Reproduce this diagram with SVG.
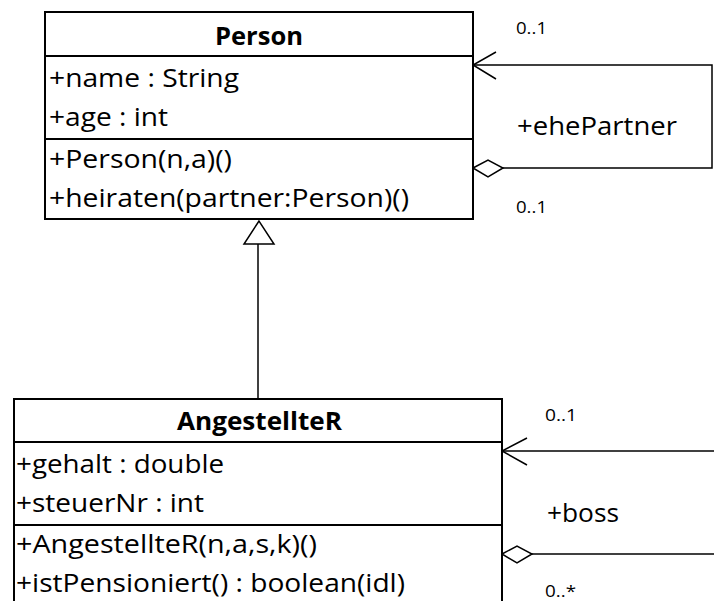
<svg xmlns="http://www.w3.org/2000/svg" width="714" height="601" viewBox="0 0 714 601">
<style>
.box{fill:#fff;stroke:#000;stroke-width:2}
.div{stroke:#000;stroke-width:2}
.t{font-family:"Open Sans","Liberation Sans",sans-serif;font-size:25.5px;fill:#000}
.b{font-weight:bold}
.m{font-family:"Open Sans","Liberation Sans",sans-serif;font-size:16px;fill:#000}
.c{fill:none;stroke:#000;stroke-width:1.5}
.h{fill:#fff;stroke:#000;stroke-width:1.5}
</style>
<rect width="714" height="601" fill="#fff"/>
<g id="connectors">
  <polyline class="c" points="473,65 712,65 712,168 503,168"/>
  <polyline class="c" points="496,52 473,65 496,79"/>
  <polygon class="h" points="473,168 488,160 503,168 488,177"/>
  <line class="c" x1="502" y1="451" x2="714" y2="451"/>
  <polyline class="c" points="527,438 502,451 527,465"/>
  <line class="c" x1="532" y1="554" x2="714" y2="554"/>
  <polygon class="h" points="502,554 517,546 532,554 517,563"/>
  <line class="c" x1="258" y1="244" x2="258" y2="399"/>
  <polygon class="h" points="259,221 244,244 274,244"/>
  <text class="m" x="516" y="34" textLength="31" lengthAdjust="spacingAndGlyphs">0..1</text>
  <text class="t" x="517" y="135" textLength="160" lengthAdjust="spacingAndGlyphs">+ehePartner</text>
  <text class="m" x="516" y="213" textLength="31" lengthAdjust="spacingAndGlyphs">0..1</text>
  <text class="m" x="545" y="421" textLength="32" lengthAdjust="spacingAndGlyphs">0..1</text>
  <text class="t" x="547" y="522" textLength="72" lengthAdjust="spacingAndGlyphs">+boss</text>
  <text class="m" x="545" y="597" textLength="31" lengthAdjust="spacingAndGlyphs">0..*</text>
</g>
<g id="Person">
  <rect class="box" x="45" y="12" width="428" height="207"/>
  <line class="div" x1="45" y1="56" x2="473" y2="56"/>
  <line class="div" x1="45" y1="139" x2="473" y2="139"/>
  <text class="t b" x="215" y="45" textLength="88" lengthAdjust="spacingAndGlyphs">Person</text>
  <text class="t" x="49" y="87" textLength="190" lengthAdjust="spacingAndGlyphs">+name : String</text>
  <text class="t" x="49" y="126" textLength="119" lengthAdjust="spacingAndGlyphs">+age : int</text>
  <text class="t" x="49" y="168" textLength="183" lengthAdjust="spacingAndGlyphs">+Person(n,a)()</text>
  <text class="t" x="49" y="207" textLength="360" lengthAdjust="spacingAndGlyphs">+heiraten(partner:Person)()</text>
</g>
<g id="AngestellteR">
  <rect class="box" x="14" y="399" width="488" height="215"/>
  <line class="div" x1="14" y1="442" x2="502" y2="442"/>
  <line class="div" x1="14" y1="525" x2="502" y2="525"/>
  <text class="t b" x="177" y="430" textLength="165" lengthAdjust="spacingAndGlyphs">AngestellteR</text>
  <text class="t" x="16" y="473" textLength="208" lengthAdjust="spacingAndGlyphs">+gehalt : double</text>
  <text class="t" x="16" y="512" textLength="188" lengthAdjust="spacingAndGlyphs">+steuerNr : int</text>
  <text class="t" x="16" y="553" textLength="301" lengthAdjust="spacingAndGlyphs">+AngestellteR(n,a,s,k)()</text>
  <text class="t" x="16" y="592" textLength="389" lengthAdjust="spacingAndGlyphs">+istPensioniert() : boolean(idl)</text>
</g>
</svg>
